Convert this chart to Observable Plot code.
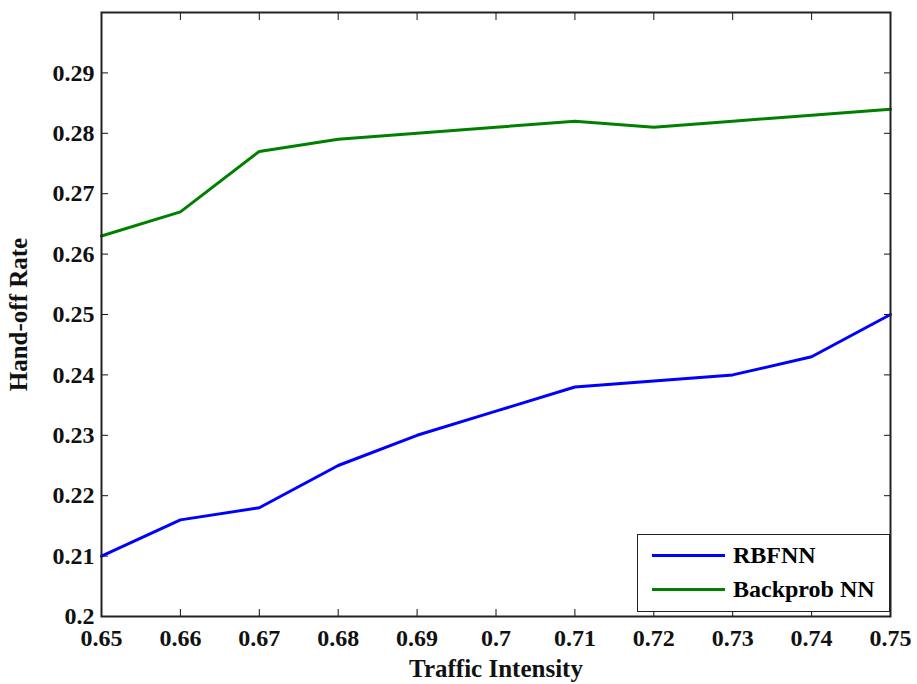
<!DOCTYPE html>
<html>
<head>
<meta charset="utf-8">
<script src="https://cdn.jsdelivr.net/npm/d3@7"></script>
<script src="https://cdn.jsdelivr.net/npm/@observablehq/plot@0.6"></script>
<style>
  html, body { margin: 0; padding: 0; background: #fff; }
  #wrap { position: relative; width: 917px; height: 684px; }
  #legend {
    position: absolute; left: 637px; top: 534px; width: 253px; height: 78px;
    border: 1.5px solid #222; background: #fff; box-sizing: border-box;
    font-family: "Liberation Serif", "Times New Roman", serif; font-weight: bold; font-size: 24px;
  }
  .item { position: absolute; left: 14px; display: flex; align-items: center; height: 28px; }
  .sw { width: 73px; height: 3px; margin-right: 8px; }
</style>
</head>
<body>
<div id="wrap"></div>
<script>
const traffic = [0.65, 0.66, 0.67, 0.68, 0.69, 0.70, 0.71, 0.72, 0.73, 0.74, 0.75];
const rbfnn   = [0.210, 0.216, 0.218, 0.225, 0.230, 0.234, 0.238, 0.239, 0.240, 0.243, 0.250];
const backprop= [0.263, 0.267, 0.277, 0.279, 0.280, 0.281, 0.282, 0.281, 0.282, 0.283, 0.284];
const seriesNames = ["RBFNN", "Backprob NN"];
const seriesColors = ["#0000ff", "#008000"];
const xTicks = [0.65, 0.66, 0.67, 0.68, 0.69, 0.70, 0.71, 0.72, 0.73, 0.74, 0.75];
const yTicks = [0.20, 0.21, 0.22, 0.23, 0.24, 0.25, 0.26, 0.27, 0.28, 0.29];
const yTickLabels = ["0.2", "0.21", "0.22", "0.23", "0.24", "0.25", "0.26", "0.27", "0.28", "0.29"];
const xTickLabels = ["0.65", "0.66", "0.67", "0.68", "0.69", "0.7", "0.71", "0.72", "0.73", "0.74", "0.75"];

const data = [];
traffic.forEach((t, i) => {
  data.push({x: t, y: rbfnn[i], s: seriesNames[0]});
  data.push({x: t, y: backprop[i], s: seriesNames[1]});
});

const chart = Plot.plot({
  width: 917,
  height: 684,
  marginLeft: 101,
  marginRight: 27,
  marginTop: 12,
  marginBottom: 68,
  style: {fontFamily: "'Liberation Serif', 'Times New Roman', serif", fontWeight: "bold", background: "#fff", color: "#111"},
  x: {domain: [0.65, 0.75]},
  y: {domain: [0.2, 0.3]},
  color: {domain: seriesNames, range: seriesColors},
  marks: [
    Plot.axisX({anchor: "bottom", ticks: xTicks, tickSize: -7, tickPadding: 19,
      tickFormat: d => xTickLabels[xTicks.findIndex(v => Math.abs(v - d) < 1e-9)] ?? "", fontSize: 24,
      label: "Traffic Intensity", labelAnchor: "center", labelArrow: "none", labelOffset: 60}),
    Plot.axisX({anchor: "top", ticks: xTicks, tickSize: -7, tickFormat: () => "", label: null}),
    Plot.axisY({anchor: "left", ticks: yTicks, tickSize: -7, tickPadding: 14,
      tickFormat: d => yTickLabels[yTicks.findIndex(v => Math.abs(v - d) < 1e-9)] ?? "", fontSize: 24,
      label: "Hand-off Rate", labelAnchor: "center", labelArrow: "none", labelOffset: 92}),
    Plot.axisY({anchor: "right", ticks: yTicks, tickSize: -7, tickFormat: () => "", label: null}),
    Plot.line(data, {x: "x", y: "y", z: "s", stroke: "s", strokeWidth: 3}),
    Plot.frame({stroke: "#222", strokeWidth: 2})
  ]
});

chart.querySelectorAll("[aria-label='x-axis label'] text, [aria-label='y-axis label'] text").forEach(t => {
  t.setAttribute("font-size", "25");
  t.style.fontSize = "25px";
});

const wrap = document.getElementById("wrap");
wrap.appendChild(chart);

const legend = document.createElement("div");
legend.id = "legend";
seriesNames.forEach((name, i) => {
  const item = document.createElement("div");
  item.className = "item";
  item.style.top = (i === 0 ? 6 : 40) + "px";
  const sw = document.createElement("div");
  sw.className = "sw";
  sw.style.background = seriesColors[i];
  const label = document.createElement("span");
  label.textContent = name;
  item.appendChild(sw);
  item.appendChild(label);
  legend.appendChild(item);
});
wrap.appendChild(legend);
</script>
</body>
</html>
